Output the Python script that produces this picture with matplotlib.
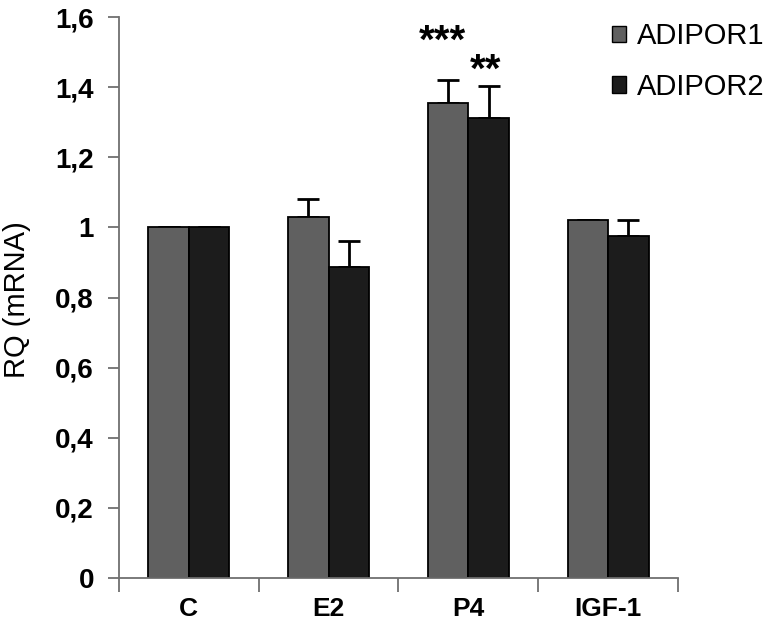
import matplotlib
matplotlib.use("Agg")
import matplotlib.pyplot as plt
import numpy as np
from matplotlib.patches import Patch

categories = ["C", "E2", "P4", "IGF-1"]
adipor1 = [1.0, 1.03, 1.355, 1.022]
adipor1_err = [0.0, 0.05, 0.065, 0.0]
adipor2 = [1.0, 0.887, 1.312, 0.975]
adipor2_err = [0.0, 0.075, 0.09, 0.045]
series_names = ["ADIPOR1", "ADIPOR2"]
yticks = [0, 0.2, 0.4, 0.6, 0.8, 1.0, 1.2, 1.4, 1.6]
ytick_labels = ["0", "0,2", "0,4", "0,6", "0,8", "1", "1,2", "1,4", "1,6"]

plt.rcParams['font.family'] = ['Liberation Sans', 'DejaVu Sans']

fig = plt.figure(figsize=(7.67, 6.24), dpi=100)
ax = fig.add_axes([0.155, 0.0737, 0.729, 0.899])

x = np.arange(len(categories))
w = 0.29
c1 = "#606060"
c2 = "#1c1c1c"
ax.bar(x - w/2, adipor1, w, color=c1, edgecolor="black", linewidth=1.3, zorder=2)
ax.bar(x + w/2, adipor2, w, color=c2, edgecolor="black", linewidth=1.3, zorder=2)
ax.errorbar(x - w/2, adipor1, yerr=[np.zeros(4), adipor1_err], fmt="none",
            ecolor="black", elinewidth=2, capsize=8, capthick=2, zorder=1)
ax.errorbar(x + w/2, adipor2, yerr=[np.zeros(4), adipor2_err], fmt="none",
            ecolor="black", elinewidth=2, capsize=8, capthick=2, zorder=1)

# significance stars
ax.text(2 - w/2 - 0.04, adipor1[2] + adipor1_err[2] + 0.11, "***", ha="center", va="center",
        fontsize=29, fontweight="bold")
ax.text(2 + w/2 - 0.02, adipor2[2] + adipor2_err[2] + 0.045, "**", ha="center", va="center",
        fontsize=29, fontweight="bold")

ax.set_xlim(-0.5, 3.5)
ax.set_ylim(0, 1.6)
ax.set_xticks(np.arange(-0.5, 4.0, 1.0))
ax.set_xticklabels([])
ax.set_xticks(x, minor=True)
ax.set_xticklabels(categories, minor=True, fontsize=19, fontweight="bold")
ax.tick_params(axis="x", which="minor", length=0, pad=14)
ax.tick_params(axis="x", which="major", length=10, width=1.3, color="#707070", direction="out")
ax.set_yticks(yticks)
ax.set_yticklabels(ytick_labels, fontsize=20, fontweight="bold")
ax.tick_params(axis="y", length=8, width=1.3, color="#707070", direction="out", pad=10)

for s in ["top", "right"]:
    ax.spines[s].set_visible(False)
for s in ["left", "bottom"]:
    ax.spines[s].set_color("#707070")
    ax.spines[s].set_linewidth(1.3)

fig.text(17 / 767, 1 - 300 / 624, "RQ (mRNA)", rotation=90, ha="center", va="center",
         fontsize=21)

handles = [Patch(facecolor=c1, edgecolor="black", label=series_names[0]),
           Patch(facecolor=c2, edgecolor="black", label=series_names[1])]
fig.legend(handles=handles, loc="upper left", bbox_to_anchor=(0.771, 0.997),
           frameon=False, fontsize=21, handlelength=0.5, handleheight=0.5,
           handletextpad=0.35, labelspacing=0.78, borderaxespad=0.3)

fig.savefig("out.png", dpi=100)
